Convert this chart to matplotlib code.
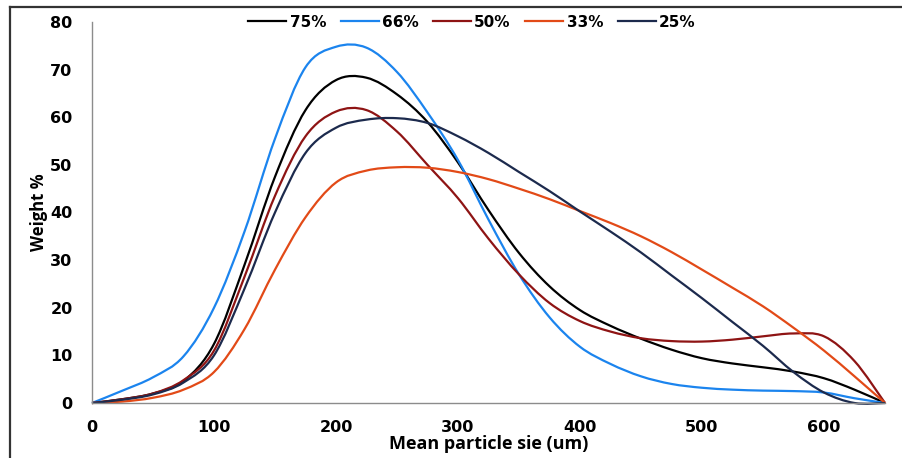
import matplotlib.pyplot as plt
from matplotlib.lines import Line2D
from matplotlib.path import Path
from matplotlib.patches import PathPatch

# particle size (um)
size = [0, 25, 50, 75, 100, 125, 150, 175, 200, 225, 250, 275, 300, 325,
        350, 375, 400, 425, 450, 475, 500, 525, 550, 575, 600, 625, 650]

w75 = [0, 0.8, 2, 4.6, 12.4, 29, 47.5, 61.5, 67.8, 68.3, 64.8, 59, 50.5, 40.5,
       31.5, 24.5, 19.5, 16.2, 13.5, 11.2, 9.4, 8.3, 7.5, 6.6, 5.2, 2.8, 0]
w66 = [0, 2.6, 5.4, 9.8, 20, 36, 55.5, 70.5, 74.8, 74.6, 69.5, 61, 51, 38.5,
       27, 18, 11.8, 8.2, 5.6, 4.0, 3.2, 2.8, 2.6, 2.5, 2.2, 1.0, 0]
w50 = [0, 0.8, 2, 4.8, 11, 26.5, 43.5, 56, 61.2, 61.5, 57, 50, 43, 34.5,
       27, 21, 17.2, 15, 13.6, 13.0, 12.9, 13.3, 14.0, 14.6, 14.0, 8.8, 0]
w33 = [0, 0.3, 1.1, 2.8, 6.5, 15.5, 28, 39, 46.3, 48.8, 49.5, 49.4, 48.5, 47,
       45, 42.8, 40.3, 37.8, 35, 31.7, 28, 24.2, 20.3, 15.8, 11, 5.6, 0]
w25 = [0, 0.7, 1.8, 4.3, 10, 24, 40, 52.5, 57.8, 59.5, 59.8, 58.8, 56, 52.5,
       48.5, 44.5, 40.2, 36, 31.6, 26.8, 22, 17, 12, 6.5, 2.2, 0, 0]

labels = ["75%", "66%", "50%", "33%", "25%"]
colors = ["#000000", "#1b84ee", "#8e1414", "#e24a17", "#1c2a4d"]


def smooth_path(xs, ys):
    # Excel-like "smoothed line": cubic bezier through the data points
    verts = [(xs[0], ys[0])]
    codes = [Path.MOVETO]
    n = len(xs)
    for i in range(n - 1):
        x0, y0 = (xs[i - 1], ys[i - 1]) if i > 0 else (xs[i], ys[i])
        x1, y1 = xs[i], ys[i]
        x2, y2 = xs[i + 1], ys[i + 1]
        x3, y3 = (xs[i + 2], ys[i + 2]) if i + 2 < n else (x2, y2)
        c1 = (x1 + (x2 - x0) / 6, y1 + (y2 - y0) / 6)
        c2 = (x2 - (x3 - x1) / 6, y2 - (y3 - y1) / 6)
        verts += [c1, c2, (x2, y2)]
        codes += [Path.CURVE4] * 3
    return Path(verts, codes)


fig = plt.figure(figsize=(9.03, 4.58), dpi=100)
ax = fig.add_axes([92 / 903, 1 - 403 / 458, (885 - 92) / 903, (403 - 22) / 458])

for ys, lab, col in zip([w75, w66, w50, w33, w25], labels, colors):
    ax.add_patch(PathPatch(smooth_path(size, ys), fc="none", ec=col, lw=1.6,
                           joinstyle="round", clip_on=False))
    ax.plot([], [], color=col, lw=1.6, label=lab)

ax.set_xlim(0, 650)
ax.set_ylim(0, 80)
ax.set_xticks(range(0, 700, 100))
ax.set_yticks(range(0, 90, 10))
ax.tick_params(length=0, labelsize=11.5, pad=12)
for t in ax.get_xticklabels() + ax.get_yticklabels():
    t.set_fontweight("bold")
ax.tick_params(axis="y", pad=14)

for s in ["top", "right"]:
    ax.spines[s].set_visible(False)
for s in ["left", "bottom"]:
    ax.spines[s].set_color("#8c8c8c")
    ax.spines[s].set_linewidth(1.0)

ax.set_xlabel("Mean particle sie (um)", fontsize=13, fontweight="bold",
              family="Open Sans", labelpad=0)
ax.set_ylabel("Weight %", fontsize=12, fontweight="bold", family="Open Sans",
              labelpad=2)

leg = ax.legend(loc="upper center", bbox_to_anchor=(0.479, 1.055), ncol=5,
                frameon=False, handlelength=2.5, handletextpad=0.2,
                columnspacing=0.95, prop={"weight": "bold", "size": 11})

# frame around the picture (top and left only)
fig.add_artist(Line2D([10 / 903, 1], [1 - 7 / 458, 1 - 7 / 458],
                      transform=fig.transFigure, color="#333333", lw=1.6))
fig.add_artist(Line2D([10 / 903, 10 / 903], [0, 1 - 7 / 458],
                      transform=fig.transFigure, color="#333333", lw=1.6))

fig.savefig("out.png", dpi=100)
